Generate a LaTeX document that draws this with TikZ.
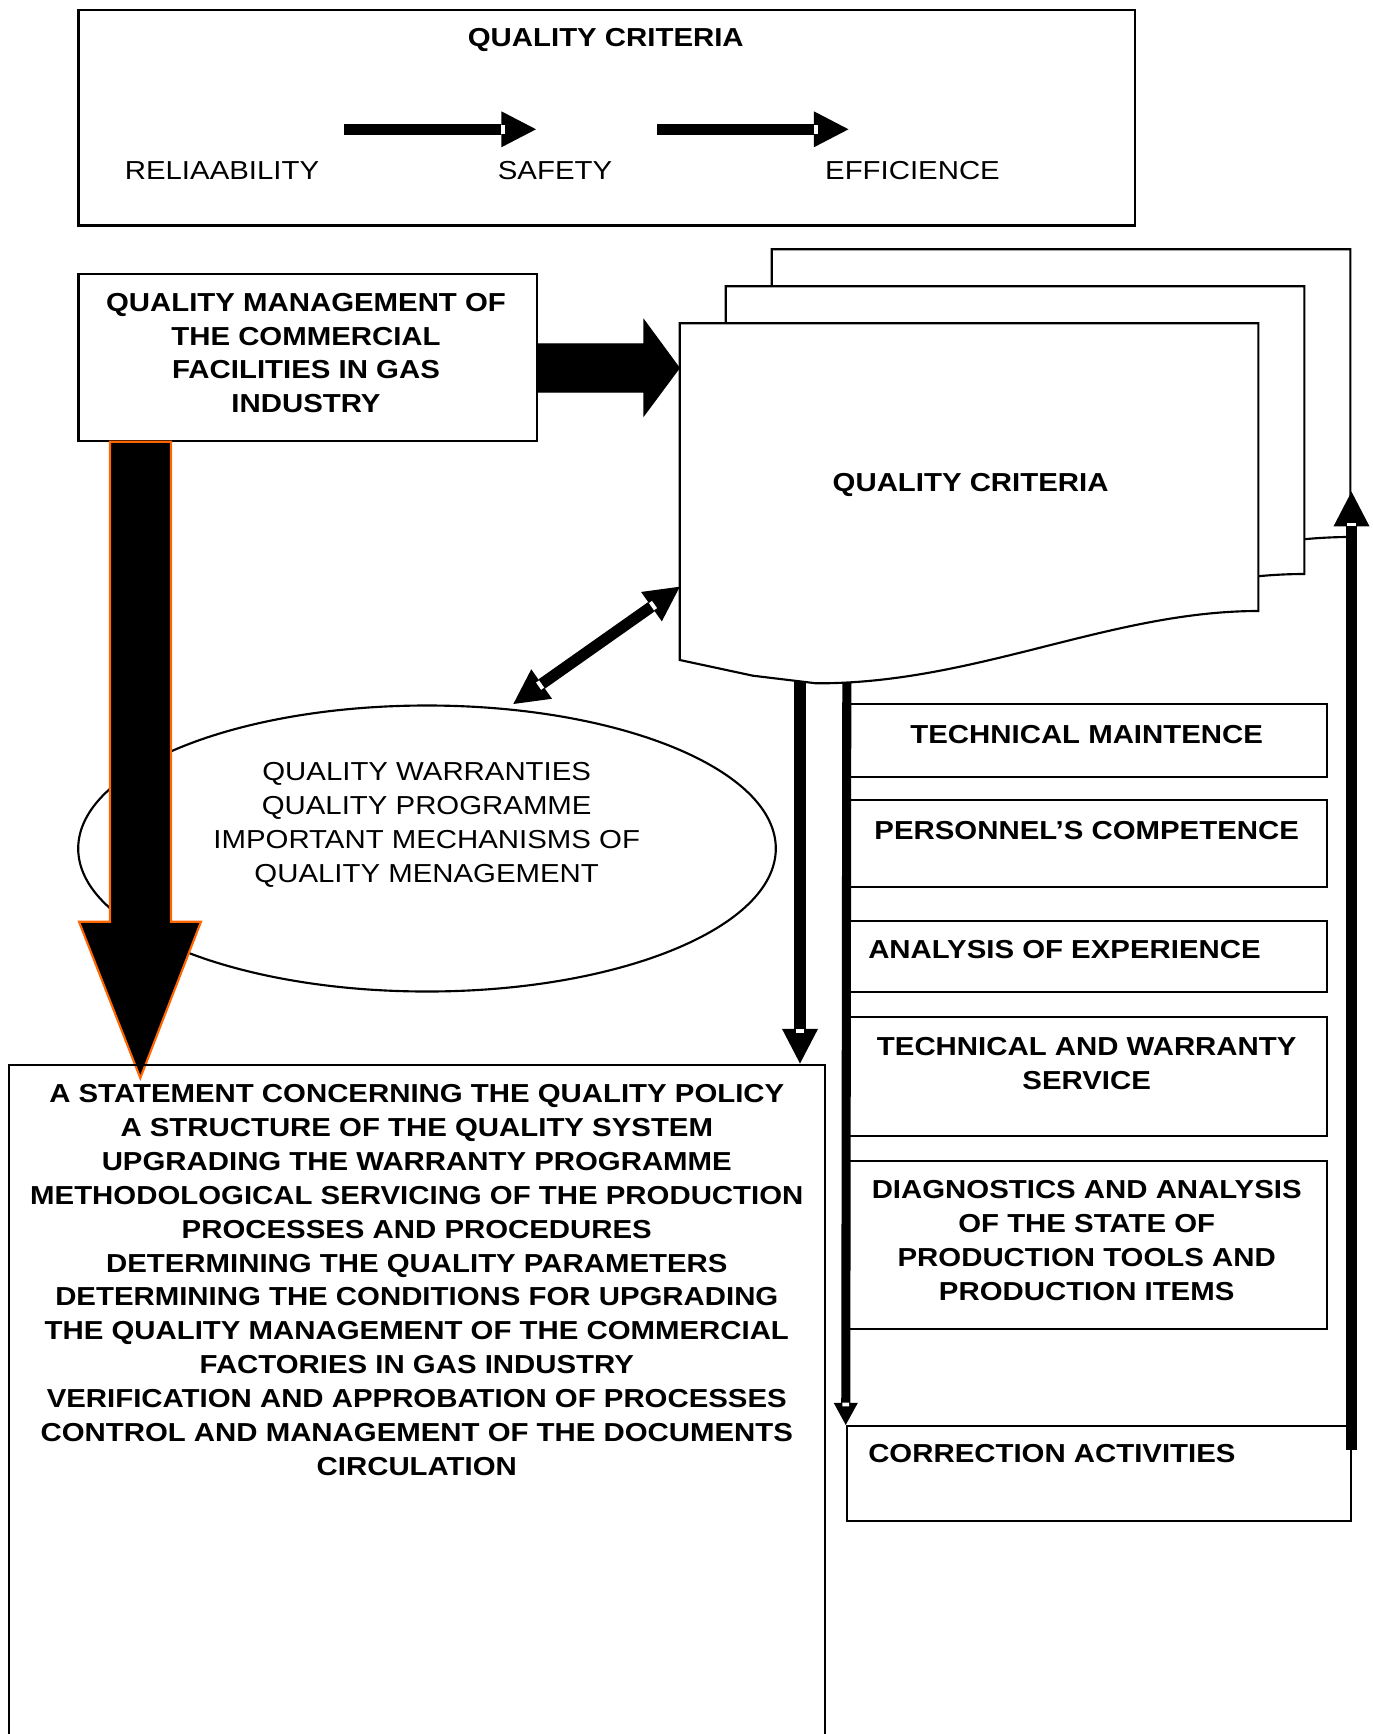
\documentclass[tikz,border=0pt]{standalone}
\usepackage{fontspec}
\setmainfont{Liberation Sans}[FakeStretch=1.13]
\usetikzlibrary{arrows.meta,positioning,fit,shapes.geometric,decorations.markings}
\definecolor{arrorange}{RGB}{255,102,0}

\tikzset{
  box/.style={draw,line width=1.6pt,inner sep=0pt},
  page/.style={draw,fill=white,line width=1.6pt},
  lbl/.style={font=\fontsize{19.5}{25.4}\selectfont,align=center,inner sep=0pt},
  blbl/.style={lbl,font=\fontsize{19.5}{25.4}\selectfont\bfseries},
  bigarrow/.style={fill=black,draw=black,line width=0.8pt},
  notch/.style 2 args={postaction={decorate,decoration={markings,
    mark=at position #1 with {\fill[white] (-1.4pt,-#2) rectangle (1.4pt,#2);}}}},
  flow/.style={line width=8.5pt,-{Triangle[length=26pt,width=27pt,line width=0pt]},notch={-24.6pt}{3.3pt}},
  flowthin/.style={line width=6.8pt,-{Triangle[length=16.5pt,width=18pt,line width=0pt]},notch={-15.3pt}{2.5pt}},
  flowboth/.style={line width=8.5pt,{Triangle[length=26pt,width=27pt,line width=0pt]}-{Triangle[length=26pt,width=27pt,line width=0pt]},
    notch={-24.6pt}{3.3pt},notch={24.6pt}{3.3pt}}
}

\begin{document}
\begin{tikzpicture}[x=0.75pt,y=-0.75pt]
	\useasboundingbox (0,0) rectangle (1373,1734);
	\clip (0,0) rectangle (1373,1734);

	\node[box,fit={(78.5,10) (1135.3,225.5)}] (crit) {};
	\node[blbl] (crit-t) at (605.8,39.5) {QUALITY CRITERIA};
	\begin{scope}[every node/.style={lbl}]
		\node (rel) at (222,170.5) {RELIAABILITY};
		\node (saf) at (555,170.5) {SAFETY};
		\node (eff) at (912.5,170.5) {EFFICIENCE};
	\end{scope}
	\coordinate (a1s) at (344.4,129.3);
	\coordinate (a1e) at (536,129.3);
	\coordinate (a2s) at (657.4,129.3);
	\coordinate (a2e) at (848.5,129.3);
	\draw[flow] (a1s) -- (a1e);
	\draw[flow] (a2s) -- (a2e);

	\node[box,fit={(78.5,274.2) (537.3,441.1)}] (qm) {};
	\node[blbl] (qm-t) at (306,353) {QUALITY MANAGEMENT OF\\THE COMMERCIAL\\FACILITIES IN GAS\\INDUSTRY};

	\foreach \dx/\dy in {92/-74,46/-37,0/0}
		\draw[page,shift={(\dx,\dy)}] (679.8,323.3) -- (1258.3,323.3) -- (1258.3,611)
			.. controls (1110,611) and (975,684) .. (816,683.3)
			-- (752.9,675.7) -- (679.8,660) -- cycle;
	\node[blbl] (fd) at (970.6,485) {QUALITY CRITERIA};

	\coordinate (ra-s) at (537.3,368);
	\coordinate (ra-t) at (679.3,368);
	\draw[bigarrow] (ra-s) ++(0,-24.2) -- ++(106.7,0) -- ++(0,-23.8) -- (ra-t)
		-- ++(-35.3,47.5) -- ++(0,-23.3) -- ++(-106.7,0) -- cycle;

	\node[draw,ellipse,fill=white,line width=1.6pt,minimum width=523.2pt,minimum height=214.5pt,inner sep=0pt] (qw) at (427,848.5) {};
	\node[lbl] (qw-t) at (426.7,825) {QUALITY WARRANTIES\\QUALITY PROGRAMME\\IMPORTANT MECHANISMS OF\\QUALITY MENAGEMENT};

	\coordinate (da-top) at (140.3,441.7);
	\coordinate (da-tip) at (140.3,1078);
	\draw[fill=black,draw=arrorange,line width=1.6pt] (da-top) ++(-30.3,0) -- ++(0,480) -- ++(-31,0) -- (da-tip)
		-- ++(60.7,-156.3) -- ++(-30,0) -- ++(0,-480) -- cycle;

	\coordinate (dd1) at (679.8,586.7);
	\coordinate (dd2) at (513.3,704);
	\draw[flowboth] (dd1) -- (dd2);

	\node[box,fit={(8.8,1064.6) (824.7,1760)}] (pol) {};
	\node[blbl] (pol-t) at (416.8,1280) {A STATEMENT CONCERNING THE QUALITY POLICY\\A STRUCTURE OF THE QUALITY SYSTEM\\UPGRADING THE WARRANTY PROGRAMME\\METHODOLOGICAL SERVICING OF THE PRODUCTION\\PROCESSES AND PROCEDURES\\DETERMINING THE QUALITY PARAMETERS\\DETERMINING THE CONDITIONS FOR UPGRADING\\THE QUALITY MANAGEMENT OF THE COMMERCIAL\\FACTORIES IN GAS INDUSTRY\\VERIFICATION AND APPROBATION OF PROCESSES\\CONTROL AND MANAGEMENT OF THE DOCUMENTS\\CIRCULATION};

	\node[box,fit={(849,704.2) (1326.6,777.2)}] (tm) {};
	\node[blbl] (tm-t) at (1086.7,735) {TECHNICAL MAINTENCE};
	\node[box,fit={(849,800.4) (1326.6,886.6)}] (pc) {};
	\node[blbl] (pc-t) at (1086.7,831) {PERSONNEL’S COMPETENCE};
	\node[box,fit={(849,920.9) (1326.6,991.6)}] (ae) {};
	\node[blbl,anchor=west] (ae-t) at (868,950) {ANALYSIS OF EXPERIENCE};
	\node[box,fit={(849,1017) (1326.6,1136.4)}] (tw) {};
	\node[blbl] (tw-t) at (1086.7,1063.5) {TECHNICAL AND WARRANTY\\SERVICE};
	\node[box,fit={(849,1160.8) (1326.6,1328.8)}] (dg) {};
	\node[blbl] (dg-t) at (1086.7,1240.5) {DIAGNOSTICS AND ANALYSIS\\OF THE STATE OF\\PRODUCTION TOOLS AND\\PRODUCTION ITEMS};
	\node[box,fit={(846.8,1426) (1351,1521.1)}] (ca) {};
	\node[blbl,anchor=west] (ca-t) at (868,1454) {CORRECTION ACTIVITIES};

	\coordinate (fd-b1) at (800,681);
	\coordinate (fd-b2) at (846.8,682.5);
	\coordinate (up-s) at (1351.5,1450);
	\coordinate (up-e) at (1351.5,491.7);
	\draw[flow] (fd-b1) -- (fd-b1 |- pol.north);
	\draw[flowthin] (fd-b2) -- (ca.north west);
	\draw[flow] (up-s) -- (up-e);
\end{tikzpicture}
\end{document}
